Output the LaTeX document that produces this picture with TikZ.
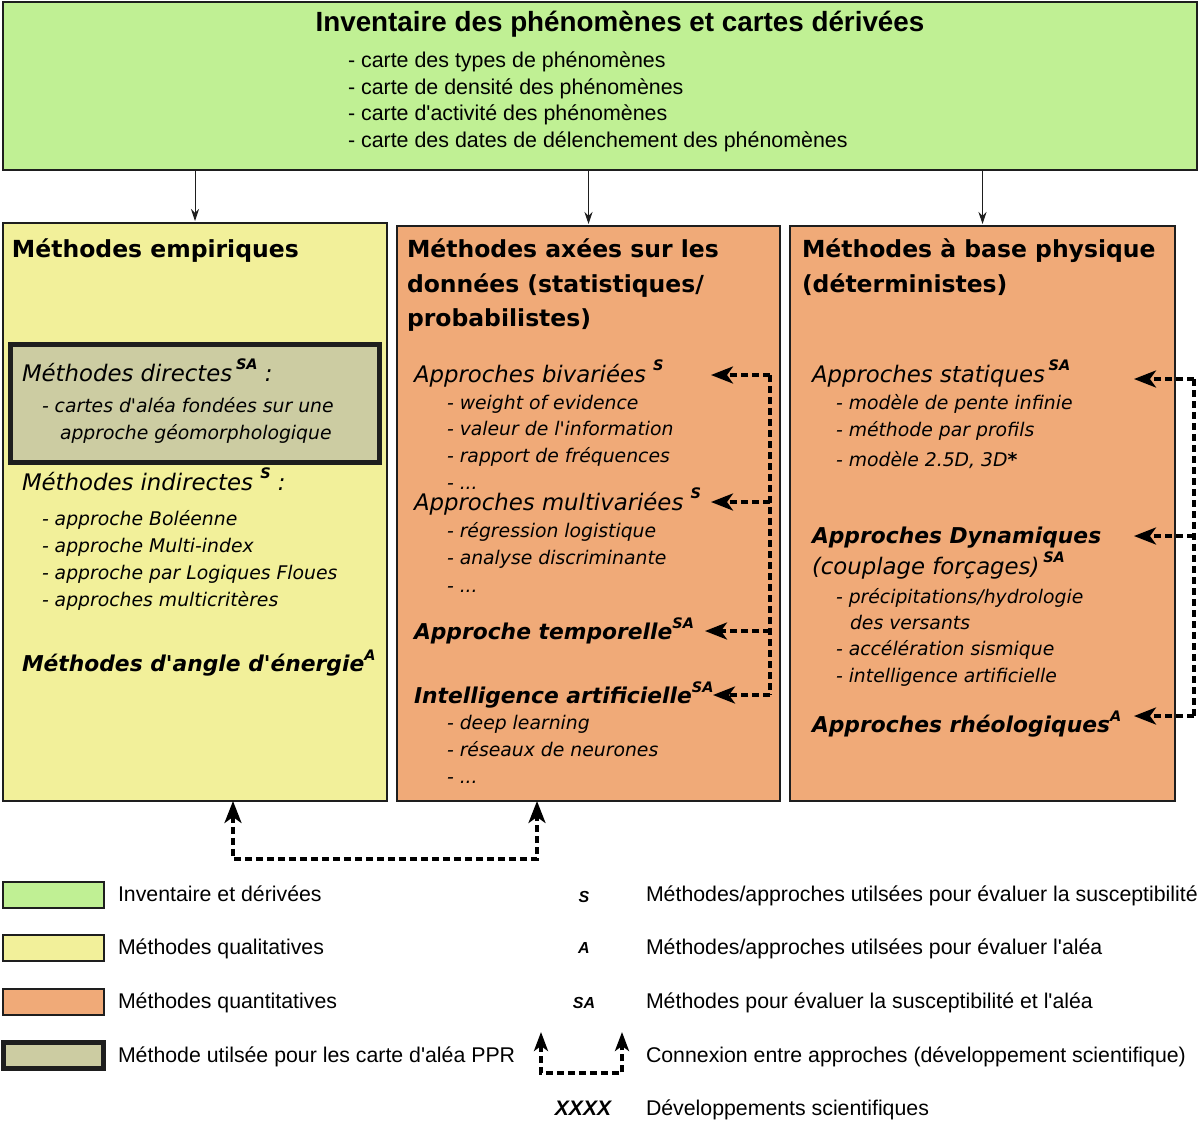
\documentclass[tikz,border=0pt]{standalone}
\usepackage{fontspec}
\setmainfont{DejaVu Sans}
\newfontfamily\arialf{Liberation Sans}
\usetikzlibrary{arrows.meta}
\definecolor{cgreen}{RGB}{192,240,148}
\definecolor{cyellow}{RGB}{242,240,154}
\definecolor{corange}{RGB}{240,170,120}
\definecolor{cgray}{RGB}{204,204,162}
\definecolor{cline}{RGB}{30,30,30}
\newcommand{\fs}[1]{\fontsize{#1}{#1}\selectfont}
\newcommand{\supa}[1]{\raisebox{0.5em}{\fs{14.5}\bfseries\itshape #1}}
\newcommand{\q}{\textquotesingle}
\tikzset{
  dashline/.style={draw=black, line width=3.4pt, dash pattern=on 7pt off 4pt},
  bigtip/.tip={Stealth[length=22pt,width=17pt,inset=6pt]},
  legtip/.tip={Stealth[length=19pt,width=14pt,inset=5pt]},
}
\begin{document}
\begin{tikzpicture}[x=1pt,y=-1pt,
  panel/.style={draw=cline, line width=1.6pt, inner sep=0pt, outer sep=0pt, anchor=north west},
  txt/.style={anchor=base west, inner sep=0pt, outer sep=0pt},
  head/.style={txt, font=\fs{23.5}\bfseries},
  ital/.style={txt, font=\fs{22.8}\itshape},
  bital/.style={txt, font=\fs{21.8}\bfseries\itshape},
  item/.style={txt, font=\fs{18.8}\itshape},
  toplist/.style={txt, font=\arialf\fs{21.4}},
  legtxt/.style={txt, font=\arialf\fs{21.3}},
  legsym/.style={inner sep=0pt, font=\arialf\fs{16}\bfseries\itshape},
  thinarr/.style={draw=cline, line width=1pt, -{Stealth[length=12pt,width=8pt]}, shorten >=2pt},
]
\useasboundingbox (0,0) rectangle (1200,1120);

% main boxes
\node[panel, fill=cgreen, minimum width=1194pt, minimum height=168pt] (top) at (3,2) {};
\node[panel, fill=cyellow, minimum width=384pt, minimum height=578pt] (colL) at (3,223) {};
\node[panel, fill=corange, minimum width=383pt, minimum height=575pt] (colM) at (397,226) {};
\node[panel, fill=corange, minimum width=385pt, minimum height=575pt] (colR) at (790,226) {};
\node[panel, fill=cgray, line width=5pt, minimum width=369pt, minimum height=118pt] (grayb) at (10,344) {};

% top box text
\node[inner sep=0pt] (title) at (620,24) {\arialf\bfseries\fs{27.8}Inventaire des phénomènes et cartes dérivées};
\node[toplist] (tl1) at (348,67) {- carte des types de phénomènes};
\node[toplist] (tl2) at (348,94) {- carte de densité des phénomènes};
\node[toplist] (tl3) at (348,120) {- carte d\q activité des phénomènes};
\node[toplist] (tl4) at (348,147) {- carte des dates de délenchement des phénomènes};

% arrows from top
\draw[thinarr] (top.south -| colL.north) -- (colL.north);
\draw[thinarr] (top.south -| colM.north) -- (colM.north);
\draw[thinarr] (top.south -| colR.north) -- (colR.north);

% left column
\node[head] (lh) at (12,257) {Méthodes empiriques};
\node[ital] (ld) at (22,381) {Méthodes directes\,\supa{SA} :};
\node[item] (ld1) at (42,412) {- cartes d\q aléa fondées sur une};
\node[item] (ld2) at (60,439) {approche géomorphologique};
\node[ital] (li) at (22,490) {Méthodes indirectes \supa{S} :};
\node[item] (li1) at (42,525) {- approche Boléenne};
\node[item] (li2) at (42,552) {- approche Multi-index};
\node[item] (li3) at (42,579) {- approche par Logiques Floues};
\node[item] (li4) at (42,606) {- approches multicritères};
\node[bital] (la) at (22,671) {Méthodes d\q angle d\q énergie\supa{A}};

% middle column
\node[head] (mh1) at (407,257) {Méthodes axées sur les};
\node[head] (mh2) at (407,292) {données (statistiques/};
\node[head] (mh3) at (407,326) {probabilistes)};
\node[ital] (mb) at (414,382) {Approches bivariées \supa{S}};
\node[item] (mb1) at (447,409) {- weight of evidence};
\node[item] (mb2) at (447,435) {- valeur de l\q information};
\node[item] (mb3) at (447,462) {- rapport de fréquences};
\node[item] (mb4) at (447,489) {- ...};
\node[ital] (mm) at (414,510) {Approches multivariées \supa{S}};
\node[item] (mm1) at (447,537) {- régression logistique};
\node[item] (mm2) at (447,564) {- analyse discriminante};
\node[item] (mm3) at (447,592) {- ...};
\node[bital] (mt) at (414,639) {Approche temporelle\supa{SA}};
\node[bital] (mi) at (414,703) {Intelligence artificielle\supa{SA}};
\node[item] (mi1) at (447,729) {- deep learning};
\node[item] (mi2) at (447,756) {- réseaux de neurones};
\node[item] (mi3) at (447,783) {- ...};

% right column
\node[head] (rh1) at (802,257) {Méthodes à base physique};
\node[head] (rh2) at (802,292) {(déterministes)};
\node[ital] (rs) at (812,382) {Approches statiques\,\supa{SA}};
\node[item] (rs1) at (836,409) {- modèle de pente infinie};
\node[item] (rs2) at (836,436) {- méthode par profils};
\node[item] (rs3) at (836,466) {- modèle 2.5D, 3D\textbf{*}};
\node[bital] (rd) at (812,543) {Approches Dynamiques};
\node[ital] (rd0) at (812,574) {(couplage forçages)\,\supa{SA}};
\node[item] (rd1) at (836,603) {- précipitations/hydrologie};
\node[item] (rd2) at (850,629) {des versants};
\node[item] (rd3) at (836,655) {- accélération sismique};
\node[item] (rd4) at (836,682) {- intelligence artificielle};
\node[bital] (rr) at (812,732) {Approches rhéologiques\supa{A}};

% middle dashed connectors
\coordinate (mv1) at (770,375);
\coordinate (mv2) at (770,502);
\coordinate (mv3) at (770,631);
\coordinate (mv4) at (770,695);
\coordinate (mb-t) at (711,375);
\coordinate (mm-t) at (711,502);
\coordinate (mt-t) at (705,631);
\coordinate (mi-t) at (713,695);
\draw[dashline] (mv1) -- (mv4);
\draw[dashline, -bigtip] (mv1) -- (mb-t);
\draw[dashline, -bigtip] (mv2) -- (mm-t);
\draw[dashline, -bigtip] (mv3) -- (mt-t);
\draw[dashline, -bigtip] (mv4) -- (mi-t);

% right dashed connectors
\coordinate (rv1) at (1194,379);
\coordinate (rv2) at (1194,536);
\coordinate (rv3) at (1194,716);
\coordinate (rs-t) at (1134,379);
\coordinate (rd-t) at (1134,536);
\coordinate (rr-t) at (1134,716);
\draw[dashline] (rv1) -- (rv3);
\draw[dashline, -bigtip] (rv1) -- (rs-t);
\draw[dashline, -bigtip] (rv2) -- (rd-t);
\draw[dashline, -bigtip] (rv3) -- (rr-t);

% bottom connector between columns
\coordinate (bL) at (233,859);
\coordinate (bM) at (537,859);
\draw[dashline, bigtip-bigtip] (colL.south -| bL) -- (bL) -- (bM) -- (colM.south -| bM);

% legend
\node[panel, fill=cgreen, minimum width=101pt, minimum height=26pt] (lg1) at (3,882) {};
\node[panel, fill=cyellow, minimum width=101pt, minimum height=26pt] (lg2) at (3,935) {};
\node[panel, fill=corange, minimum width=101pt, minimum height=26pt] (lg3) at (3,989) {};
\node[panel, fill=cgray, line width=5pt, minimum width=100pt, minimum height=26pt] (lg4) at (3,1042) {};
\node[legtxt] (lt1) at (118,901) {Inventaire et dérivées};
\node[legtxt] (lt2) at (118,954) {Méthodes qualitatives};
\node[legtxt] (lt3) at (118,1008) {Méthodes quantitatives};
\node[legtxt] (lt4) at (118,1062) {Méthode utilsée pour les carte d\q aléa PPR};

\node[legsym] (ls1) at (584,897) {S};
\node[legsym] (ls2) at (584,948) {A};
\node[legsym] (ls3) at (584,1003) {SA};
\coordinate (lc1) at (541,1032);
\coordinate (lc2) at (541,1073);
\coordinate (lc3) at (622,1073);
\coordinate (lc4) at (622,1032);
\draw[dashline, legtip-legtip] (lc1) -- (lc2) -- (lc3) -- (lc4);
\node[inner sep=0pt, font=\arialf\fs{21}\bfseries\itshape] (ls5) at (583,1108) {XXXX};

\node[legtxt] (lr1) at (646,901) {Méthodes/approches utilsées pour évaluer la susceptibilité};
\node[legtxt] (lr2) at (646,954) {Méthodes/approches utilsées pour évaluer l\q aléa};
\node[legtxt] (lr3) at (646,1008) {Méthodes pour évaluer la susceptibilité et l\q aléa};
\node[legtxt] (lr4) at (646,1062) {Connexion entre approches (développement scientifique)};
\node[legtxt] (lr5) at (646,1115) {Développements scientifiques};
\end{tikzpicture}
\end{document}
